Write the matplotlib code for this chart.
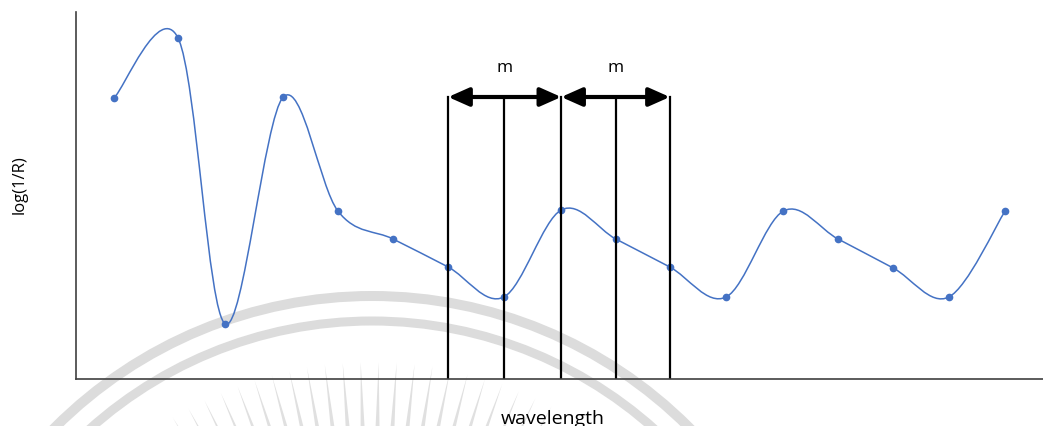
import matplotlib.pyplot as plt
import numpy as np
from matplotlib.path import Path
from matplotlib.patches import PathPatch, Circle, Polygon

# spectrum points along wavelength
x = [0, 1.15, 2.0, 3.04, 4.02, 5.01, 6.0, 7.0, 8.03, 9.01, 9.98, 10.99, 12.02, 13.0, 13.99, 14.99, 16.0]
y = [281, 341, 55, 282, 168, 140, 112, 82, 169, 140, 112, 82, 168, 140, 111, 82, 168]
# window lines sit on these points; arrows span two steps each
window_idx = [6, 7, 8, 9, 10]
window_top = 282
spans = [(6, 8), (8, 10)]
span_label = "m"

fig = plt.figure(figsize=(10.43, 4.27), dpi=100)

# faint watermark in the background (figure pixel coords)
wm = fig.add_axes([0, 0, 1, 1], zorder=0)
wm.set_xlim(0, 1043)
wm.set_ylim(427, 0)
wm.axis('off')
cx, cy = 372, 745
for r, lw in [(448, 7.2), (423, 6.5)]:
    wm.add_patch(Circle((cx, cy), r, fill=False, lw=lw, color='#dcdcdc'))
for a in np.arange(62, 123, 2.7):
    t = np.radians(a)
    ux, uy = np.cos(t), -np.sin(t)
    px, py = -uy, ux
    tip = (cx + 382 * ux, cy + 382 * uy)
    b1 = (cx + 300 * ux + 2.5 * px, cy + 300 * uy + 2.5 * py)
    b2 = (cx + 300 * ux - 2.5 * px, cy + 300 * uy - 2.5 * py)
    wm.add_patch(Polygon([tip, b1, b2], closed=True, color='#e0e0e0', lw=0))

ax = fig.add_axes([76 / 1043, 47 / 427, 967 / 1043, 367 / 427], zorder=1)
ax.patch.set_alpha(0)
ax.set_xlim(-0.682, 16.68)
ax.set_ylim(0, 367)
for s in ['top', 'right']:
    ax.spines[s].set_visible(False)
for s in ['left', 'bottom']:
    ax.spines[s].set_color('#404040')
    ax.spines[s].set_linewidth(1.2)
ax.set_xticks([])
ax.set_yticks([])

# smoothed line (Catmull-Rom as cubic Bezier segments)
pts = np.column_stack([x, y]).astype(float)
ext = np.vstack([pts[0], pts, pts[-1]])
verts = [tuple(pts[0])]
codes = [Path.MOVETO]
for i in range(len(pts) - 1):
    p0, p1, p2, p3 = ext[i], ext[i + 1], ext[i + 2], ext[i + 3]
    c1 = p1 + (p2 - p0) / 6
    c2 = p2 - (p3 - p1) / 6
    verts += [tuple(c1), tuple(c2), tuple(p2)]
    codes += [Path.CURVE4] * 3
ax.add_patch(PathPatch(Path(verts, codes), fill=False, color='#4472C4', lw=1.1))
ax.plot(x, y, 'o', color='#4472C4', ms=4.5, mec='#4472C4')

# moving window lines
for i in window_idx:
    ax.plot([x[i], x[i]], [0, window_top], color='black', lw=1.6)

for a, b in spans:
    ax.annotate('', xy=(x[b], window_top), xytext=(x[a], window_top),
                arrowprops=dict(arrowstyle='<|-|>,head_length=0.9,head_width=0.4',
                                lw=3, color='black', shrinkA=0, shrinkB=0,
                                mutation_scale=14))
    ax.text((x[a] + x[b]) / 2, 312, span_label, ha='center', va='center',
            fontsize=12.5, family='Open Sans')

ax.set_xlabel('wavelength', fontsize=14, family='Open Sans')
ax.xaxis.set_label_coords(0.493, -0.082)
ax.set_ylabel('log(1/R)', fontsize=12, family='Open Sans')
ax.yaxis.set_label_coords(-0.05, 0.531)

fig.savefig('out.png', dpi=100)
